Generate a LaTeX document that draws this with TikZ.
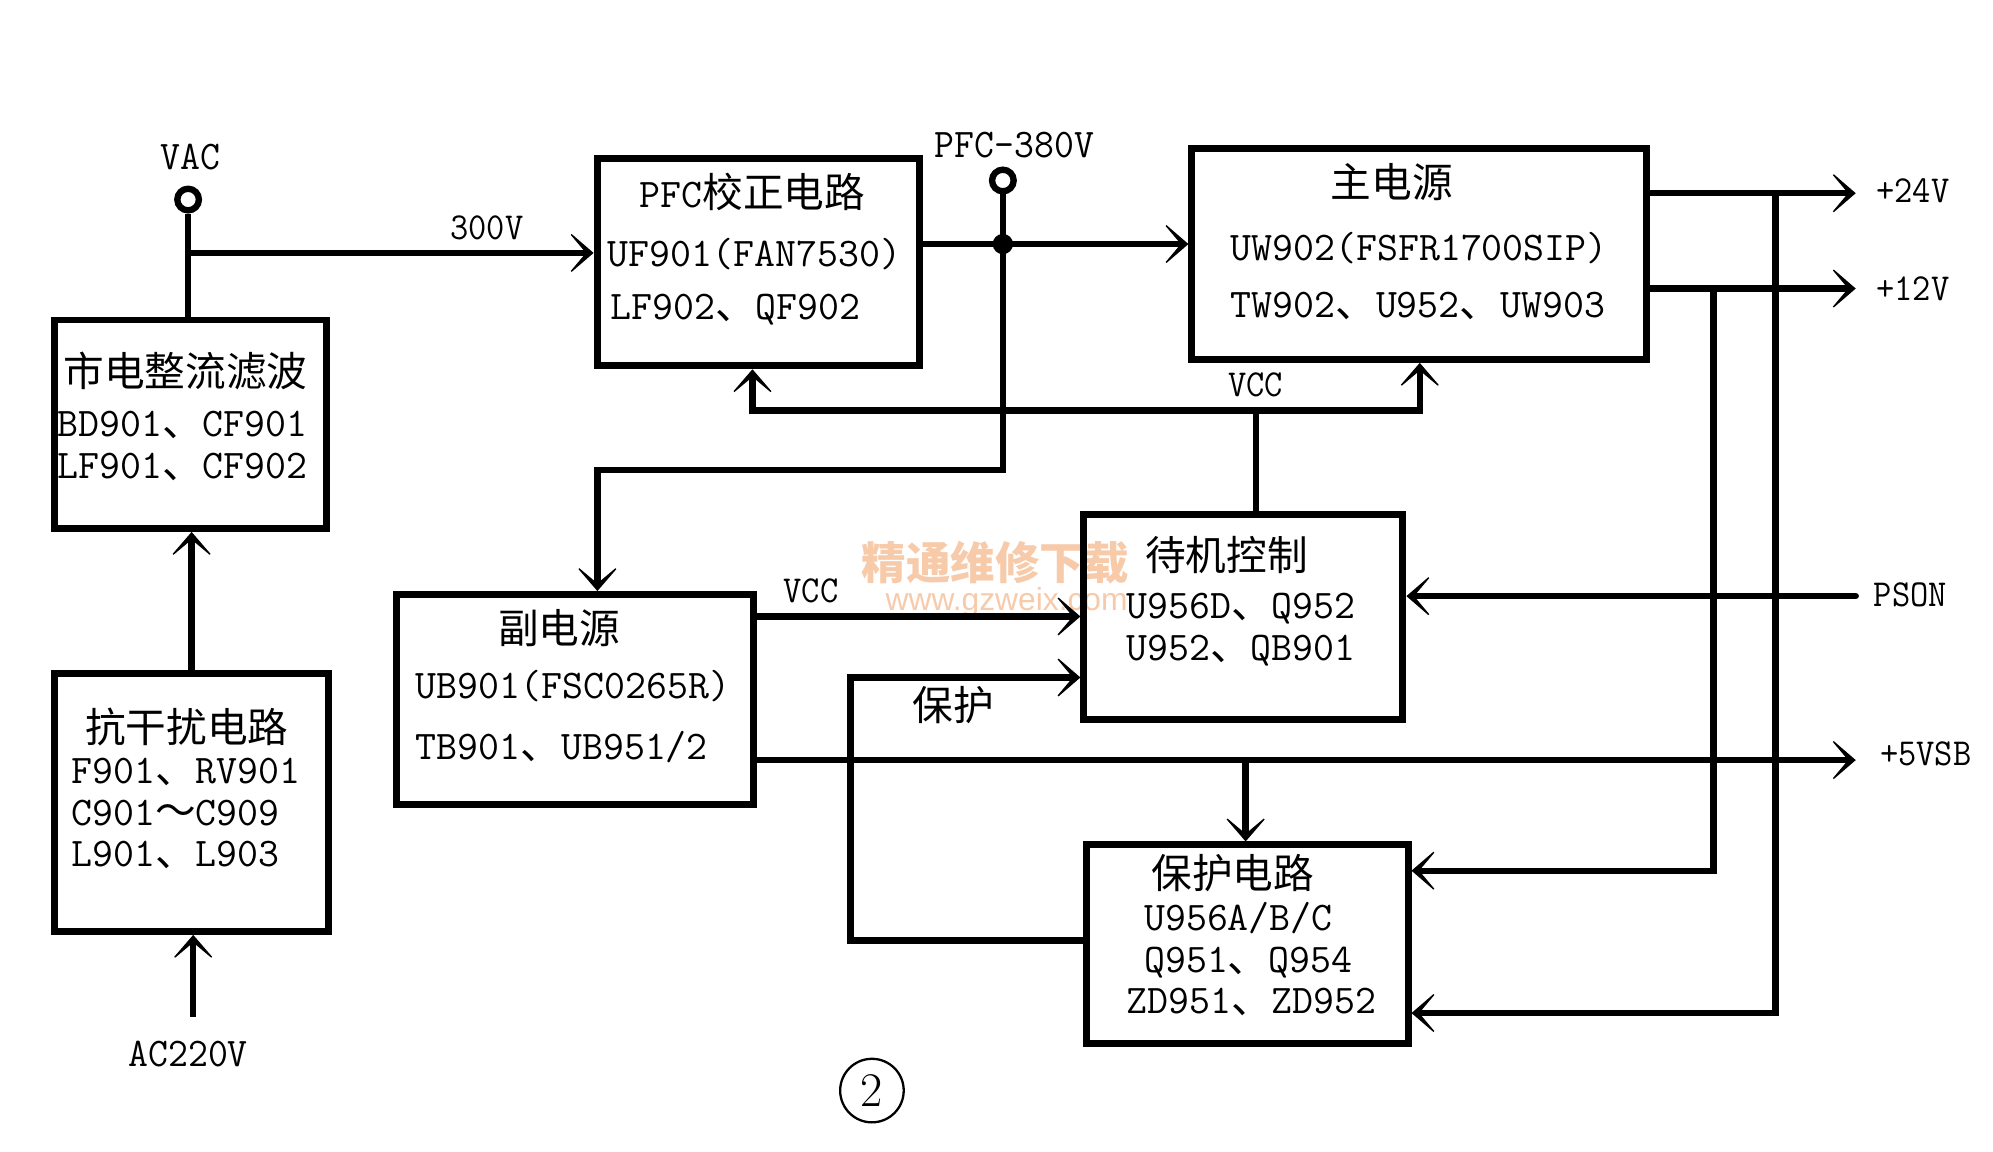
\documentclass[tikz,border=0pt]{standalone}
\usepackage{graphicx}
\usepackage{fontspec}
\newfontfamily\cjk{Noto Sans CJK SC}
\newfontfamily\wmsans{Liberation Sans}
\usetikzlibrary{arrows.meta}
\definecolor{wm}{RGB}{247,202,170}
\newcommand\mo{\ttfamily\fontsize{32}{34}\selectfont}
\newcommand\zh{\cjk\fontsize{32}{34}\selectfont}
\newcommand\dn{{\cjk\fontsize{32}{34}\selectfont 、}}
\newcommand\lbA[1]{\scalebox{0.95}[1]{\ttfamily\fontsize{32}{32}\selectfont #1}}
\newcommand\lbB[1]{\scalebox{0.93}[1]{\ttfamily\fontsize{30}{30}\selectfont #1}}
\tikzset{
  blk/.style={draw=black, line width=5.5pt, inner sep=0pt, anchor=north west},
  wire/.style={line width=5pt},
  term/.style={circle, draw=black, line width=5pt, minimum size=17pt, inner sep=0pt},
  mtxt/.style={inner sep=0pt, anchor=west, text height=19.5pt, text depth=0pt, font=\mo},
  ztxt/.style={inner sep=0pt, text height=28pt, text depth=4pt},
  ltxt/.style={inner sep=0pt, text height=18.5pt, text depth=0pt},
}
\begin{document}
\begin{tikzpicture}[x=1pt,y=-1pt,
  >={Stealth[length=22pt,width=38pt,inset=16pt,line width=1pt]}]
\fill[white] (0,0) rectangle (1568,906);
\useasboundingbox (0,0) rectangle (1568,906);

% watermark
\node[inner sep=0pt, text=wm] (wm1) at (783,443) {\cjk\bfseries\fontsize{35}{35}\selectfont 精通维修下载};
\node[inner sep=0pt, text=wm] (wm2) at (792,474) {\wmsans\fontsize{25}{25}\selectfont www.gzweix.com};

% boxes
\node[blk, minimum width=214pt, minimum height=164pt] (rect) at (40,249) {};
\node[blk, minimum width=216pt, minimum height=203pt] (anti) at (40,527) {};
\node[blk, minimum width=254pt, minimum height=163pt] (pfc) at (467,122) {};
\node[blk, minimum width=358pt, minimum height=166pt] (main) at (935,114) {};
\node[blk, minimum width=281pt, minimum height=165pt] (sub) at (309,465) {};
\node[blk, minimum width=251pt, minimum height=161pt] (stby) at (850,402) {};
\node[blk, minimum width=253pt, minimum height=156pt] (prot) at (852,662) {};

% box texts
\node[ztxt] (t-rect) at (146,292) {\zh 市电整流滤波};
\node[mtxt] (t-rect2) at (45,334) {BD901\dn CF901};
\node[mtxt] (t-rect3) at (45,367) {LF901\dn CF902};

\node[ztxt] (t-anti) at (147,572) {\zh 抗干扰电路};
\node[mtxt] (t-anti2) at (56,607) {F901\dn RV901};
\node[mtxt] (t-anti3) at (56,640) {C901{\cjk\fontsize{32}{34}\selectfont ～}C909};
\node[mtxt] (t-anti4) at (56,672) {L901\dn L903};

\node[ztxt] (t-pfc) at (592,151) {{\mo PFC}\zh 校正电路};
\node[mtxt] (t-pfc2) at (478,200) {UF901(FAN7530)};
\node[mtxt] (t-pfc3) at (480,242) {LF902\dn QF902};

\node[ztxt] (t-main) at (1095,143) {\zh 主电源};
\node[mtxt] (t-main2) at (968,195) {UW902(FSFR1700SIP)};
\node[mtxt] (t-main3) at (968,240) {TW902\dn U952\dn UW903};

\node[ztxt] (t-sub) at (440,494) {\zh 副电源};
\node[mtxt] (t-sub2) at (327,540) {UB901(FSC0265R)};
\node[mtxt] (t-sub3) at (327,588) {TB901\dn UB951/2};

\node[ztxt] (t-stby) at (965,437) {\zh 待机控制};
\node[mtxt] (t-stby2) at (886,477) {U956D\dn Q952};
\node[mtxt] (t-stby3) at (886,510) {U952\dn QB901};

\node[ztxt] (t-prot) at (970,687) {\zh 保护电路};
\node[mtxt] (t-prot2) at (900,722) {U956A/B/C};
\node[mtxt] (t-prot3) at (900,755) {Q951\dn Q954};
\node[mtxt] (t-prot4) at (886,788) {ZD951\dn ZD952};

% terminals and labels
\node[term] (vac) at (148,157) {};
\node[ltxt] (l-vac) at (150,124) {\lbA{VAC}};
\node[term] (t380) at (789,142) {};
\node[ltxt] (l-380) at (798,115) {\lbA{PFC-380V}};
\node[ltxt] (l-300) at (383,179) {\lbB{300V}};
\node[ltxt] (l-ac) at (148,830) {\lbA{AC220V}};
\node[ltxt] (l-24) at (1505,150) {\lbB{+24V}};
\node[ltxt] (l-12) at (1505,227) {\lbB{+12V}};
\node[ltxt] (l-vcc1) at (988,303) {\lbB{VCC}};
\node[ltxt] (l-vcc2) at (638,465) {\lbB{VCC}};
\node[ltxt] (l-pson) at (1503,468) {\lbB{PSON}};
\node[ltxt] (l-5v) at (1515,593) {\lbB{+5VSB}};
\node[ztxt] (l-bh) at (750,555) {\zh 保护};

% coordinates
\coordinate (j300) at (148,199);
\coordinate (acTop) at (152,800);
\coordinate (j380) at (789,192);
\coordinate (c1) at (789,370);
\coordinate (c2) at (470,370);
\coordinate (v1) at (592,323);
\coordinate (v2) at (1117,323);
\coordinate (v3) at (988,323);
\coordinate (s1) at (593,485);
\coordinate (p5) at (1460,598);
\coordinate (d5) at (980,598);
\coordinate (ps) at (1460,469);
\coordinate (b1) at (669,740);
\coordinate (b2) at (669,533);
\coordinate (o24) at (1460,152);
\coordinate (v24) at (1397,152);
\coordinate (v24b) at (1397,797);
\coordinate (o12) at (1460,227);
\coordinate (v12) at (1348,227);
\coordinate (v12b) at (1348,685);

% wires
\draw[wire] (vac.south) -- (vac.south |- rect.north);
\draw[wire,->] (j300) -- (j300 -| pfc.west);
\draw[wire,->] (anti.north) -- (anti.north |- rect.south);
\draw[wire,->] (acTop) -- (acTop |- anti.south);
\draw[wire] (pfc.east |- j380) -- (j380);
\draw[wire,->] (j380) -- (j380 -| main.west);
\draw[wire] (t380.south) -- (j380);
\fill (j380) circle (8);
\draw[wire,->] (j380) -- (c1) -- (c2) -- (c2 |- sub.north);
\draw[wire,<->] (v1 |- pfc.south) -- (v1) -- (v2) -- (v2 |- main.south);
\draw[wire] (stby.north -| v3) -- (v3);
\draw[wire,->] (sub.east |- s1) -- (s1 -| stby.west);
\draw[wire,->] (sub.east |- p5) -- (p5);
\draw[wire,->] (d5) -- (d5 |- prot.north);
\draw[wire,->,line cap=round] (ps) -- (ps -| stby.east);
\draw[wire,->] (prot.west |- b1) -- (b1) -- (b2) -- (b2 -| stby.west);
\draw[wire,->] (main.east |- o24) -- (o24);
\draw[wire,->] (v24) -- (v24b) -- (v24b -| prot.east);
\draw[wire,->] (main.east |- o12) -- (o12);
\draw[wire,->] (v12) -- (v12b) -- (v12b -| prot.east);

% figure number
\node[circle, draw=black, line width=1.8pt, minimum size=50pt, inner sep=0pt] (num) at (686,858) {\rmfamily\fontsize{38}{38}\selectfont 2};
\end{tikzpicture}
\end{document}
